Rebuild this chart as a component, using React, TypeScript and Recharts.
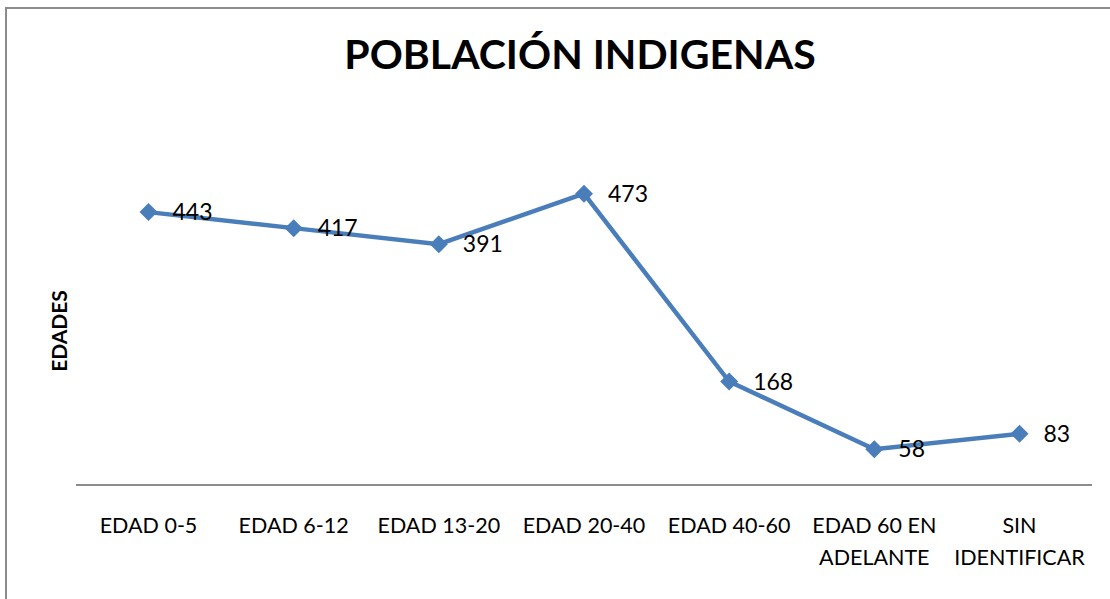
import { LineChart, Line, XAxis, YAxis, LabelList } from "recharts";

const categories = ["EDAD 0-5", "EDAD 6-12", "EDAD 13-20", "EDAD 20-40", "EDAD 40-60", "EDAD 60 EN ADELANTE", "SIN IDENTIFICAR"];
const tickLines = [["EDAD 0-5"], ["EDAD 6-12"], ["EDAD 13-20"], ["EDAD 20-40"], ["EDAD 40-60"], ["EDAD 60 EN", "ADELANTE"], ["SIN", "IDENTIFICAR"]];
const values = [443, 417, 391, 473, 168, 58, 83];

const data = categories.map((c, i) => ({ name: c, value: values[i] }));

const BLUE = "#4a7ebb";
const FONT = "Lato, 'Open Sans', sans-serif";

const Tick = (props: any) => {
  const { x, y, index } = props;
  const lines = tickLines[index] || [props.payload.value];
  return (
    <g>
      {lines.map((l, i) => (
        <text key={i} x={x} y={y + 40 + i * 32} textAnchor="middle" fill="#000" fontSize={21.5} fontFamily={FONT}>
          {l}
        </text>
      ))}
    </g>
  );
};

const Diamond = (props: any) => {
  const { cx, cy } = props;
  if (cx == null || cy == null) return null;
  const r = 9;
  return <polygon points={`${cx},${cy - r} ${cx + r},${cy} ${cx},${cy + r} ${cx - r},${cy}`} fill={BLUE} />;
};

export default function App() {
  return (
    <div style={{ position: "fixed", left: 0, top: 0, width: 1110, height: 599, overflow: "hidden", background: "#fff" }}>
      <div style={{ position: "absolute", left: 5, top: 7, width: 1130, height: 620, border: "2px solid #8c8c8c" }} />
      <div
        style={{
          position: "absolute",
          left: 0,
          top: 29,
          width: 1160,
          textAlign: "center",
          fontFamily: FONT,
          fontWeight: 700,
          fontSize: 41,
          color: "#000",
        }}
      >
        POBLACIÓN INDIGENAS
      </div>
      <div
        style={{
          position: "absolute",
          left: 58,
          top: 331,
          transform: "translate(-50%, -50%) rotate(-90deg)",
          fontFamily: FONT,
          fontWeight: 700,
          fontSize: 21,
          color: "#000",
          whiteSpace: "nowrap",
        }}
      >
        EDADES
      </div>
      <div style={{ position: "absolute", left: 0, top: 0 }}>
        <LineChart width={1110} height={599} data={data} margin={{ top: 177, right: 18, bottom: 0, left: 76 }}>
          <XAxis
            dataKey="name"
            interval={0}
            height={114}
            padding={{ left: 72.5, right: 72.5 }}
            axisLine={{ stroke: "#8c8c8c", strokeWidth: 2 }}
            tickLine={false}
            tick={<Tick />}
          />
          <YAxis hide domain={[0, 500]} />
          <Line
            dataKey="value"
            stroke={BLUE}
            strokeWidth={4.5}
            dot={<Diamond />}
            activeDot={false}
            isAnimationActive={false}
          >
            <LabelList dataKey="value" position="right" offset={24} fill="#000" fontSize={23} fontFamily={FONT} />
          </Line>
        </LineChart>
      </div>
    </div>
  );
}
